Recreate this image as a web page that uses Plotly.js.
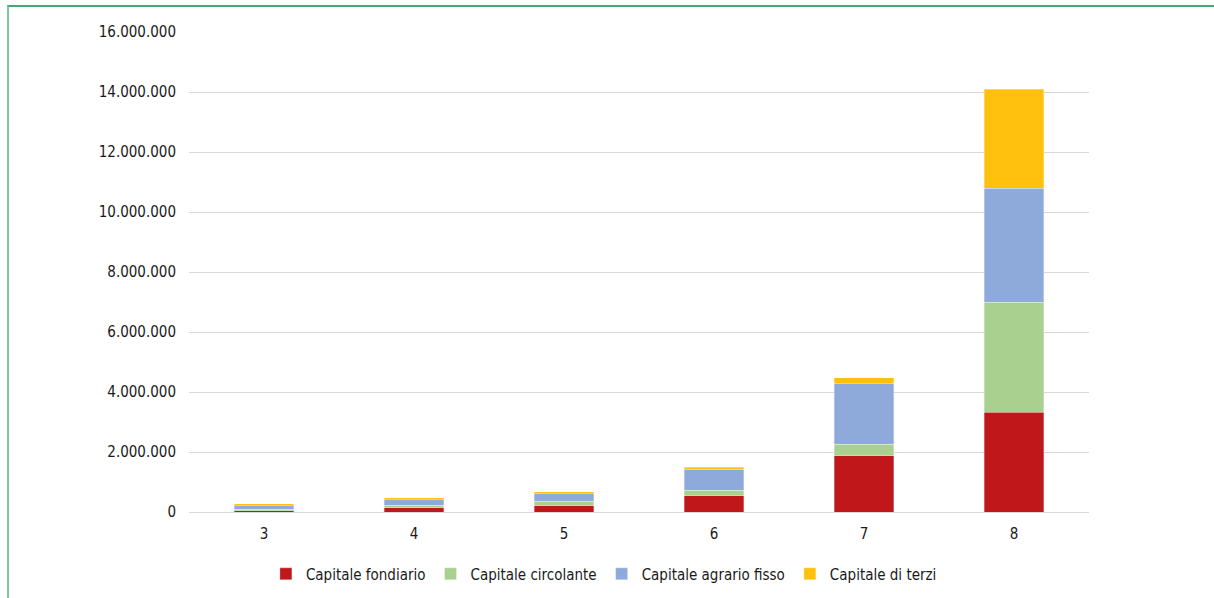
<!DOCTYPE html>
<html>
<head>
<meta charset="utf-8">
<script src="https://cdn.plot.ly/plotly-3.0.1.min.js"></script>
<style>
  html, body { margin: 0; padding: 0; background: #fff; }
  #chart { width: 1214px; height: 598px; position: absolute; left: 0; top: 0; }
  #frame { position: absolute; left: 7px; top: 5px; width: 1207px; height: 593px;
           border-top: 2px solid #45a873; border-left: 2px solid #80c7a0; pointer-events: none; box-sizing: border-box; }
</style>
</head>
<body>
<div id="chart"></div>
<div id="frame"></div>
<script>
const categories = ["3", "4", "5", "6", "7", "8"];
const capitaleFondiario = [50000, 150000, 210000, 540000, 1870000, 3330000];
const capitaleCircolante = [50000, 80000, 150000, 190000, 390000, 3670000];
const capitaleAgrarioFisso = [110000, 180000, 250000, 690000, 2010000, 3800000];
const capitaleDiTerzi = [70000, 70000, 70000, 70000, 200000, 3300000];
const seriesNames = ["Capitale fondiario", "Capitale circolante", "Capitale agrario fisso", "Capitale di terzi"];
const yTickVals = [0, 2000000, 4000000, 6000000, 8000000, 10000000, 12000000, 14000000, 16000000];

const colors = ["#c0171a", "#a9d08e", "#8eaadb", "#ffc10e"];
const seriesData = [capitaleFondiario, capitaleCircolante, capitaleAgrarioFisso, capitaleDiTerzi];

const FONT = "'DejaVu Sans Condensed', 'Liberation Sans Narrow', 'Roboto', sans-serif";

const traces = seriesData.map((vals, i) => ({
  type: "bar",
  name: seriesNames[i],
  x: categories,
  y: vals,
  marker: { color: colors[i], line: { color: "rgba(255,255,255,0.6)", width: 0.5 } },
  hoverinfo: "x+y+name"
}));

const layout = {
  width: 1214,
  height: 598,
  barmode: "stack",
  bargap: 0.605,
  separators: ",.",
  paper_bgcolor: "#ffffff",
  plot_bgcolor: "#ffffff",
  margin: { l: 189, r: 125, t: 32, b: 86, pad: 0 },
  font: { family: FONT, size: 15, color: "#1a1a1a" },
  xaxis: {
    type: "category",
    showgrid: false,
    showline: false,
    ticks: "",
    tickfont: { family: FONT, size: 15, color: "#1a1a1a" },
    ticklabelstandoff: 11
  },
  yaxis: {
    range: [0, 16000000],
    tickvals: yTickVals,
    tickformat: ",d",
    showgrid: true,
    gridcolor: "#d9d9d9",
    gridwidth: 1,
    zeroline: true,
    zerolinecolor: "#d9d9d9",
    zerolinewidth: 1,
    showline: false,
    ticks: "",
    ticklabelstandoff: 12,
    tickfont: { family: FONT, size: 15, color: "#1a1a1a" }
  },
  showlegend: true,
  legend: {
    orientation: "h",
    xref: "paper",
    x: 0.461,
    xanchor: "center",
    yref: "container",
    y: 0.04,
    yanchor: "middle",
    traceorder: "normal",
    font: { family: FONT, size: 15, color: "#1a1a1a" },
    bgcolor: "rgba(0,0,0,0)"
  }
};

Plotly.newPlot("chart", traces, layout, { displayModeBar: false, staticPlot: true });
</script>
</body>
</html>
